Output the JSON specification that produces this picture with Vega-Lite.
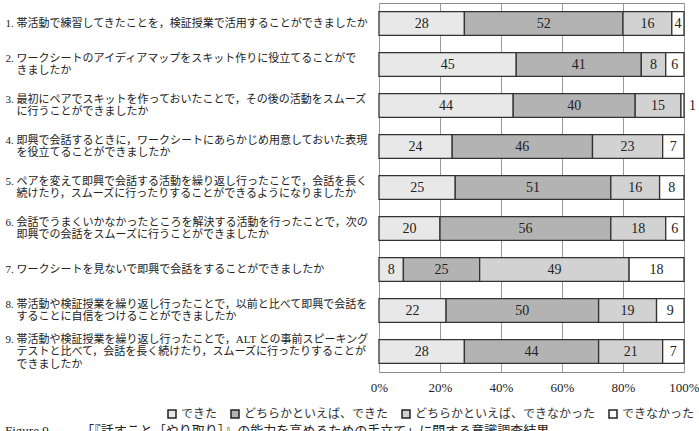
{
  "$schema": "https://vega.github.io/schema/vega-lite/v6.json",
  "width": 305,
  "height": 369,
  "autosize": {"type": "none"},
  "padding": {"left": 379, "top": 3, "right": 15, "bottom": 59},
  "background": "white",
  "title": {
    "text": "Figure 9　　　「『話すこと［やり取り］』の能力を高めるための手立て」に関する意識調査結果",
    "orient": "bottom",
    "anchor": "start",
    "frame": "bounds",
    "font": "Liberation Serif, Noto Sans CJK JP",
    "fontSize": 13,
    "fontWeight": "normal",
    "color": "#222",
    "offset": 4
  },
  "datasets": {
    "questions": [
      {"q": 1, "label": "1. 帯活動で練習してきたことを，検証授業で活用することができましたか"},
      {"q": 2, "label": "2. ワークシートのアイディアマップをスキット作りに役立てることがで|\u200b\u00a0\u00a0\u00a0\u00a0きましたか"},
      {"q": 3, "label": "3. 最初にペアでスキットを作っておいたことで，その後の活動をスムーズ|\u200b\u00a0\u00a0\u00a0\u00a0に行うことができましたか"},
      {"q": 4, "label": "4. 即興で会話するときに，ワークシートにあらかじめ用意しておいた表現|\u200b\u00a0\u00a0\u00a0\u00a0を役立てることができましたか"},
      {"q": 5, "label": "5. ペアを変えて即興で会話する活動を繰り返し行ったことで，会話を長く|\u200b\u00a0\u00a0\u00a0\u00a0続けたり，スムーズに行ったりすることができるようになりましたか"},
      {"q": 6, "label": "6. 会話でうまくいかなかったところを解決する活動を行ったことで，次の|\u200b\u00a0\u00a0\u00a0\u00a0即興での会話をスムーズに行うことができましたか"},
      {"q": 7, "label": "7. ワークシートを見ないで即興で会話をすることができましたか"},
      {"q": 8, "label": "8. 帯活動や検証授業を繰り返し行ったことで，以前と比べて即興で会話を|\u200b\u00a0\u00a0\u00a0\u00a0することに自信をつけることができましたか"},
      {"q": 9, "label": "9. 帯活動や検証授業を繰り返し行ったことで，ALT との事前スピーキング|\u200b\u00a0\u00a0\u00a0\u00a0テストと比べて，会話を長く続けたり，スムーズに行ったりすることが|\u200b\u00a0\u00a0\u00a0\u00a0できましたか"}
    ],
    "answers": [
      {"q": 1, "cat": "できた", "order": 1, "v": 28},
      {"q": 1, "cat": "どちらかといえば、できた", "order": 2, "v": 52},
      {"q": 1, "cat": "どちらかといえば、できなかった", "order": 3, "v": 16},
      {"q": 1, "cat": "できなかった", "order": 4, "v": 4},
      {"q": 2, "cat": "できた", "order": 1, "v": 45},
      {"q": 2, "cat": "どちらかといえば、できた", "order": 2, "v": 41},
      {"q": 2, "cat": "どちらかといえば、できなかった", "order": 3, "v": 8},
      {"q": 2, "cat": "できなかった", "order": 4, "v": 6},
      {"q": 3, "cat": "できた", "order": 1, "v": 44},
      {"q": 3, "cat": "どちらかといえば、できた", "order": 2, "v": 40},
      {"q": 3, "cat": "どちらかといえば、できなかった", "order": 3, "v": 15},
      {"q": 3, "cat": "できなかった", "order": 4, "v": 1},
      {"q": 4, "cat": "できた", "order": 1, "v": 24},
      {"q": 4, "cat": "どちらかといえば、できた", "order": 2, "v": 46},
      {"q": 4, "cat": "どちらかといえば、できなかった", "order": 3, "v": 23},
      {"q": 4, "cat": "できなかった", "order": 4, "v": 7},
      {"q": 5, "cat": "できた", "order": 1, "v": 25},
      {"q": 5, "cat": "どちらかといえば、できた", "order": 2, "v": 51},
      {"q": 5, "cat": "どちらかといえば、できなかった", "order": 3, "v": 16},
      {"q": 5, "cat": "できなかった", "order": 4, "v": 8},
      {"q": 6, "cat": "できた", "order": 1, "v": 20},
      {"q": 6, "cat": "どちらかといえば、できた", "order": 2, "v": 56},
      {"q": 6, "cat": "どちらかといえば、できなかった", "order": 3, "v": 18},
      {"q": 6, "cat": "できなかった", "order": 4, "v": 6},
      {"q": 7, "cat": "できた", "order": 1, "v": 8},
      {"q": 7, "cat": "どちらかといえば、できた", "order": 2, "v": 25},
      {"q": 7, "cat": "どちらかといえば、できなかった", "order": 3, "v": 49},
      {"q": 7, "cat": "できなかった", "order": 4, "v": 18},
      {"q": 8, "cat": "できた", "order": 1, "v": 22},
      {"q": 8, "cat": "どちらかといえば、できた", "order": 2, "v": 50},
      {"q": 8, "cat": "どちらかといえば、できなかった", "order": 3, "v": 19},
      {"q": 8, "cat": "できなかった", "order": 4, "v": 9},
      {"q": 9, "cat": "できた", "order": 1, "v": 28},
      {"q": 9, "cat": "どちらかといえば、できた", "order": 2, "v": 44},
      {"q": 9, "cat": "どちらかといえば、できなかった", "order": 3, "v": 21},
      {"q": 9, "cat": "できなかった", "order": 4, "v": 7}
    ]
  },
  "data": {"name": "answers"},
  "transform": [
    {"lookup": "q", "from": {"data": {"name": "questions"}, "key": "q", "fields": ["label"]}},
    {"stack": "v", "groupby": ["q"], "sort": [{"field": "order", "order": "ascending"}], "as": ["v0", "v1"]},
    {"calculate": "(datum.v0 + datum.v1) / 2", "as": "mid"}
  ],
  "encoding": {
    "y": {
      "field": "label",
      "type": "nominal",
      "sort": "ascending",
      "scale": {"paddingInner": 0.42, "paddingOuter": 0.21},
      "axis": {
        "title": null,
        "ticks": false,
        "domain": false,
        "labelAlign": "left",
        "labelBaseline": "middle",
        "labelPadding": 374,
        "labelOffset": {
          "condition": [
            {"test": "length(split(datum.label, '|')) == 3", "value": -12},
            {"test": "length(split(datum.label, '|')) == 2", "value": -6}
          ],
          "value": 0
        },
        "labelFont": "Liberation Serif, Noto Sans CJK JP",
        "labelFontSize": 11,
        "labelLineHeight": 12.5,
        "labelColor": "#222",
        "labelLimit": 0,
        "labelExpr": "split(datum.label, '|')"
      }
    }
  },
  "layer": [
    {
      "mark": {"type": "bar", "stroke": "#333", "strokeWidth": 1.3},
      "encoding": {
        "x": {
          "field": "v0",
          "type": "quantitative",
          "scale": {"domain": [0, 100], "nice": false},
          "axis": {
            "title": null,
            "values": [0, 20, 40, 60, 80, 100],
            "labelExpr": "datum.value + '%'",
            "grid": true,
            "gridColor": "#9a9a9a",
            "gridWidth": 1,
            "ticks": false,
            "domain": false,
            "labelPadding": 9,
            "labelFont": "Liberation Serif",
            "labelFontSize": 13,
            "labelColor": "#222",
            "labelFlush": false
          }
        },
        "x2": {"field": "v1"},
        "color": {
          "field": "cat",
          "type": "nominal",
          "sort": ["できた", "どちらかといえば、できた", "どちらかといえば、できなかった", "できなかった"],
          "scale": {
            "domain": ["できた", "どちらかといえば、できた", "どちらかといえば、できなかった", "できなかった"],
            "range": ["#e8e8e8", "#b3b3b3", "#d2d2d2", "#ffffff"]
          },
          "legend": {
            "title": null,
            "orient": "none",
            "direction": "horizontal",
            "legendX": -213,
            "legendY": 405,
            "symbolType": "square",
            "symbolSize": 64,
            "symbolStrokeColor": "#222",
            "symbolStrokeWidth": 1.5,
            "labelFont": "Noto Sans CJK JP",
            "labelFontSize": 12,
            "labelColor": "#333",
            "labelLimit": 0,
            "columnPadding": 10,
            "labelOffset": 3
          }
        }
      }
    },
    {
      "transform": [{"filter": "datum.v >= 2"}],
      "mark": {"type": "text", "font": "Liberation Serif", "fontSize": 14, "color": "#222", "baseline": "middle"},
      "encoding": {
        "x": {"field": "mid", "type": "quantitative"},
        "text": {"field": "v", "type": "quantitative"}
      }
    },
    {
      "transform": [{"filter": "datum.v < 2"}],
      "mark": {"type": "text", "font": "Liberation Serif", "fontSize": 14, "color": "#222", "baseline": "middle", "align": "left", "dx": 5},
      "encoding": {
        "x": {"field": "v1", "type": "quantitative"},
        "text": {"field": "v", "type": "quantitative"}
      }
    }
  ],
  "config": {
    "view": {"stroke": "#8a8a8a", "strokeWidth": 1}
  }
}
